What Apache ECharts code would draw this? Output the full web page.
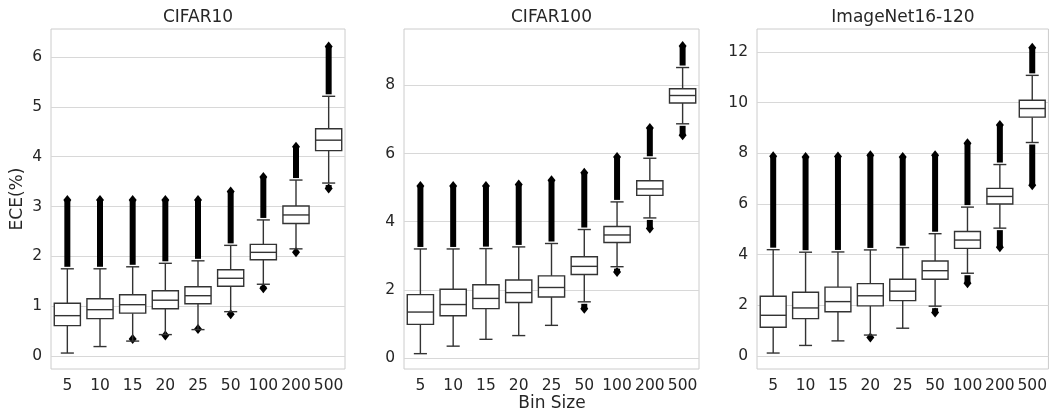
<!DOCTYPE html>
<html><head><meta charset="utf-8">
<script src="https://cdn.jsdelivr.net/npm/echarts@6/dist/echarts.min.js"></script>
<style>html,body{margin:0;padding:0;background:#fff}#c{width:1050px;height:416px}</style>
</head><body><div id="c"></div>
<script>
// Categories (bin sizes)
const categories = ['5','10','15','20','25','50','100','200','500'];
const panelTitles = ['CIFAR10','CIFAR100','ImageNet16-120'];

// CIFAR10
const c10WhiskerLow  = [0.06,0.19,0.30,0.43,0.53,0.89,1.44,2.15,3.47];
const c10Q1          = [0.61,0.75,0.86,0.95,1.05,1.40,1.93,2.66,4.12];
const c10Median      = [0.81,0.93,1.03,1.12,1.21,1.56,2.08,2.83,4.33];
const c10Q3          = [1.06,1.15,1.23,1.31,1.39,1.73,2.24,3.01,4.56];
const c10WhiskerHigh = [1.75,1.75,1.79,1.86,1.91,2.22,2.73,3.53,5.21];
const c10OutlierMin  = [null,null,0.24,0.31,0.44,0.74,1.26,1.98,3.26];
const c10OutlierMax  = [3.23,3.23,3.23,3.23,3.23,3.40,3.69,4.30,6.31];

// CIFAR100
const c100WhiskerLow  = [0.13,0.35,0.55,0.66,0.96,1.65,2.68,4.11,6.87];
const c100Q1          = [0.99,1.24,1.45,1.63,1.79,2.45,3.39,4.77,7.48];
const c100Median      = [1.35,1.57,1.75,1.92,2.07,2.69,3.61,4.96,7.70];
const c100Q3          = [1.86,2.02,2.15,2.29,2.41,2.97,3.86,5.20,7.90];
const c100WhiskerHigh = [3.20,3.20,3.21,3.26,3.36,3.77,4.58,5.86,8.52];
const c100OutlierMin  = [null,null,null,null,null,1.30,2.38,3.65,6.39];
const c100OutlierMax  = [5.19,5.19,5.19,5.24,5.36,5.58,6.04,6.89,9.30];

// ImageNet16-120
const inWhiskerLow  = [0.12,0.42,0.60,0.83,1.10,1.97,3.27,5.05,8.43];
const inQ1          = [1.14,1.48,1.75,1.98,2.19,3.03,4.25,6.00,9.43];
const inMedian      = [1.61,1.90,2.15,2.38,2.56,3.37,4.58,6.30,9.77];
const inQ3          = [2.36,2.52,2.72,2.86,3.03,3.75,4.92,6.62,10.10];
const inWhiskerHigh = [4.20,4.10,4.11,4.19,4.28,4.83,5.88,7.56,11.08];
const inOutlierMin  = [null,null,null,0.54,null,1.52,2.68,4.10,6.55];
const inOutlierMax  = [8.08,8.06,8.07,8.12,8.06,8.12,8.60,9.32,12.37];

// Tick labels
const c10Ticks  = [0,1,2,3,4,5,6];
const c100Ticks = [0,2,4,6,8];
const inTicks   = [0,2,4,6,8,10,12];

const panels = [
  {lo:c10WhiskerLow,q1:c10Q1,med:c10Median,q3:c10Q3,hi:c10WhiskerHigh,oMin:c10OutlierMin,oMax:c10OutlierMax,ticks:c10Ticks,min:-0.26,max:6.56},
  {lo:c100WhiskerLow,q1:c100Q1,med:c100Median,q3:c100Q3,hi:c100WhiskerHigh,oMin:c100OutlierMin,oMax:c100OutlierMax,ticks:c100Ticks,min:-0.32,max:9.65},
  {lo:inWhiskerLow,q1:inQ1,med:inMedian,q3:inQ3,hi:inWhiskerHigh,oMin:inOutlierMin,oMax:inOutlierMax,ticks:inTicks,min:-0.51,max:12.91}
];

const gridPos = [
  {left:51, top:29, width:294, height:340},
  {left:404, top:29, width:295, height:340},
  {left:757, top:29, width:292, height:340}
];

const FONT = 'DejaVu Sans';
const TXT = '#262626';
const LINE = '#333333';

function renderBox(params, api) {
  const x = api.value(0);
  const lo = api.value(1), q1 = api.value(2), med = api.value(3), q3 = api.value(4), hi = api.value(5);
  const oMin = api.value(6), oMax = api.value(7);
  const bw = api.size([1, 0])[0] * 0.8;
  const cx = api.coord([x, med])[0];
  const y = v => api.coord([x, v])[1];
  const st = {stroke: LINE, lineWidth: 1.4, fill: null};
  const children = [];
  const colW = 6, dw = 4, dh = 5;
  if (oMax != null && !isNaN(oMax)) {
    const yt = y(oMax), yb = y(hi) - 2;
    children.push({type:'rect', shape:{x:cx-colW/2, y:yt+dh, width:colW, height:Math.max(0, yb-(yt+dh))}, style:{fill:'#000'}});
    children.push({type:'polygon', shape:{points:[[cx,yt],[cx+dw,yt+dh],[cx,yt+2*dh],[cx-dw,yt+dh]]}, style:{fill:'#000'}});
  }
  if (oMin != null && !isNaN(oMin)) {
    const yb = y(oMin), yt = y(lo) + 2;
    children.push({type:'rect', shape:{x:cx-colW/2, y:yt, width:colW, height:Math.max(0, (yb-dh)-yt)}, style:{fill:'#000'}});
    children.push({type:'polygon', shape:{points:[[cx,yb],[cx+dw,yb-dh],[cx,yb-2*dh],[cx-dw,yb-dh]]}, style:{fill:'#000'}});
  }
  children.push({type:'line', shape:{x1:cx, y1:y(hi), x2:cx, y2:y(q3)}, style:st});
  children.push({type:'line', shape:{x1:cx, y1:y(q1), x2:cx, y2:y(lo)}, style:st});
  children.push({type:'line', shape:{x1:cx-bw/4, y1:y(hi), x2:cx+bw/4, y2:y(hi)}, style:st});
  children.push({type:'line', shape:{x1:cx-bw/4, y1:y(lo), x2:cx+bw/4, y2:y(lo)}, style:st});
  children.push({type:'rect', shape:{x:cx-bw/2, y:y(q3), width:bw, height:y(q1)-y(q3)}, style:{stroke:LINE, lineWidth:1.4, fill:'#fff'}});
  children.push({type:'line', shape:{x1:cx-bw/2, y1:y(med), x2:cx+bw/2, y2:y(med)}, style:st});
  return {type:'group', children};
}

const option = {
  backgroundColor: '#fff',
  animation: false,
  grid: gridPos.map(g => Object.assign({show:true, borderColor:'#cccccc', borderWidth:1, backgroundColor:'transparent'}, g)),
  xAxis: panels.map((p, i) => ({
    type:'category', gridIndex:i, data:categories,
    axisLine:{show:false}, axisTick:{show:false}, splitLine:{show:false},
    axisLabel:{color:TXT, fontFamily:FONT, fontSize:15.5, margin:9, interval:0}
  })),
  yAxis: panels.map((p, i) => ({
    type:'value', gridIndex:i, min:p.min, max:p.max,
    axisLine:{show:false},
    axisTick:{show:false, customValues:p.ticks},
    axisLabel:{color:TXT, fontFamily:FONT, fontSize:15.5, margin:9, customValues:p.ticks},
    splitLine:{show:true, lineStyle:{color:'#d8d8d8', width:1}}
  })),
  graphic: [
    ...panelTitles.map((t, i) => ({type:'text', x: gridPos[i].left + gridPos[i].width/2, y:18,
      style:{text:t, fontFamily:FONT, fontSize:17, fill:TXT, textAlign:'center', textVerticalAlign:'middle'}})),
    {type:'text', x:18, y:199, rotation:Math.PI/2,
      style:{text:'ECE(%)', fontFamily:FONT, fontSize:17, fill:TXT, textAlign:'center', textVerticalAlign:'middle'}},
    {type:'text', x:552, y:404,
      style:{text:'Bin Size', fontFamily:FONT, fontSize:17, fill:TXT, textAlign:'center', textVerticalAlign:'middle'}}
  ],
  series: panels.map((p, i) => ({
    type:'custom', xAxisIndex:i, yAxisIndex:i,
    renderItem: renderBox,
    encode:{x:0, y:[1,2,3,4,5]},
    data: categories.map((c, k) => [k, p.lo[k], p.q1[k], p.med[k], p.q3[k], p.hi[k],
      p.oMin[k] == null ? NaN : p.oMin[k], p.oMax[k]])
  }))
};

echarts.init(document.getElementById('c'), null, {renderer:'canvas'}).setOption(option);
</script></body></html>
